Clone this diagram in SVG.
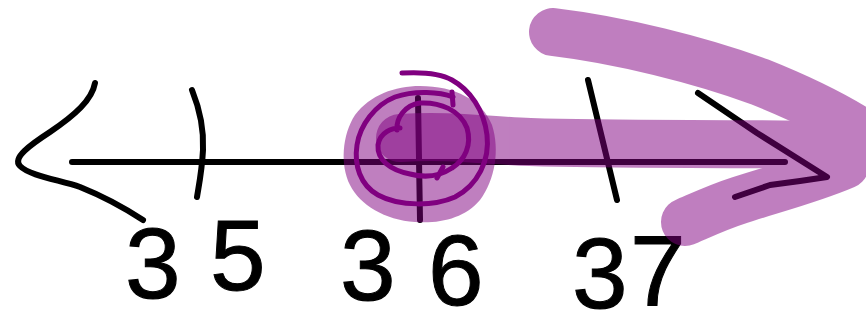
<svg xmlns="http://www.w3.org/2000/svg" width="866" height="334" viewBox="0 0 866 334">
<style>
.ink{fill:none;stroke:#000;stroke-width:6;stroke-linecap:round;stroke-linejoin:round}
.circ{fill:none;stroke:#800080;stroke-width:5;stroke-linecap:round;stroke-linejoin:round}
.hl{fill:none;stroke:#800080;stroke-linecap:round;stroke-linejoin:round}
.num{font-family:"Liberation Sans",Arial,sans-serif;font-size:100px;fill:#000;stroke:#000;stroke-width:1}
</style>
<rect width="866" height="334" fill="#fff"/>
<g id="axis">
<path class="ink" d="M72,162 L785,162"/>
<path class="ink" d="M95,83 C92,100 75,115 50,132 C30,145 12,158 20,166 C30,176 60,180 80,187 C100,195 120,205 143,220"/>
<path class="ink" d="M698,93 L757,133 L827,177 L800,181 L770,185 L735,197"/>
</g>
<g id="tick-35">
<path class="ink" d="M192,90 C200,110 204,130 203,150 C202,170 199,185 197,197"/>
<text class="num" x="125" y="298">3</text>
<text class="num" x="210" y="290">5</text>
</g>
<g id="tick-36">
<path class="ink" d="M418,98 L420,220"/>
<text class="num" x="340" y="300">3</text>
<text class="num" x="428" y="305">6</text>
</g>
<g id="tick-37">
<path class="ink" d="M588,80 L617,200"/>
<text class="num" x="572" y="308">3</text>
<text class="num" x="630" y="306">7</text>
</g>
<g id="highlight" opacity="0.5">
<path class="hl" stroke-width="48" d="M400,138 C450,135 480,140 530,142 C620,145 720,143 830,145"/>
<path class="hl" stroke-width="48" d="M553,32 C620,40 700,60 760,82 C800,98 840,118 866,135"/>
<path class="hl" stroke-width="48" d="M845,165 C810,180 770,190 740,200 C715,208 695,218 685,222"/>
<path fill="#800080" stroke="none" d="M830,120 L866,135 L866,170 L845,188 L820,150 Z"/>
</g>
<g id="blob" opacity="0.5">
<path fill="#800080" d="M420,86 C455,86 482,100 492,125 C500,150 495,180 480,200 C465,218 440,224 415,222 C385,220 360,205 350,185 C340,165 342,135 355,115 C370,95 395,86 420,86 Z"/>
</g>
<g id="circle-36">
<path class="circ" d="M402,73 C420,72 440,73 452,80 C470,90 484,110 487,135 C490,160 478,185 455,197 C435,206 400,207 378,195 C360,185 354,165 357,145 C360,125 375,105 395,97 C415,90 440,92 453,97"/>
<path class="circ" d="M452,92 L453,105"/>
<path class="circ" d="M397,130 C396,118 405,105 420,103 C440,102 460,110 467,128 C472,145 465,160 452,168 C440,176 425,178 410,174 C390,170 377,160 378,145 C380,132 392,128 400,128"/>
<path class="circ" d="M443,167 L437,178"/>
</g>
</svg>
